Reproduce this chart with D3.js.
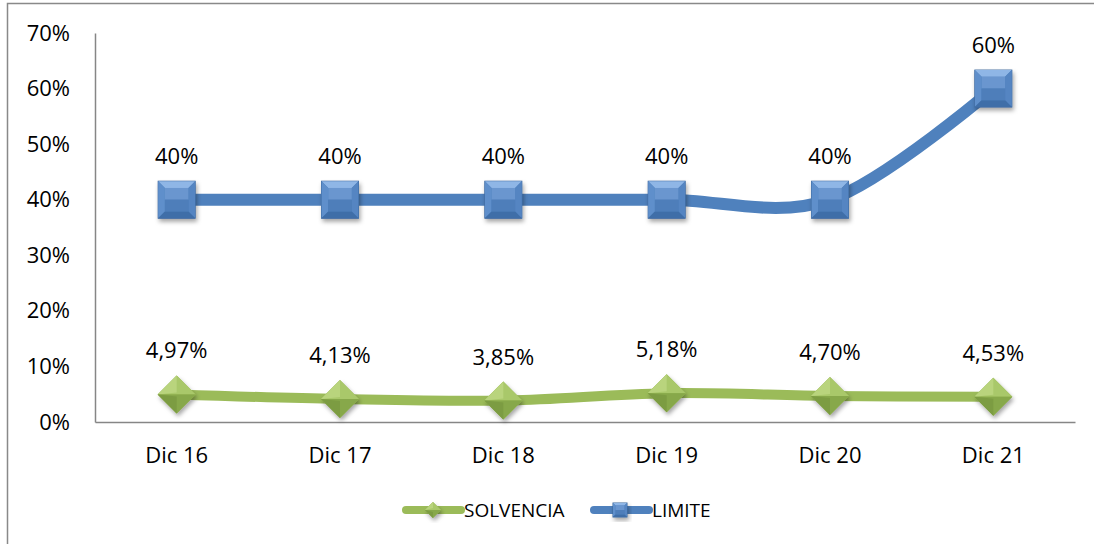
<!DOCTYPE html>
<html>
<head>
<meta charset="utf-8">
<script src="https://cdn.jsdelivr.net/npm/d3@7"></script>
<style>
	body { margin: 0; background: #fff; }
	text { font-family: "Open Sans", sans-serif; fill: #000; }
</style>
</head>
<body>
<svg id="chart" width="1094" height="544"></svg>
<script>
const categories = ['Dic 16', 'Dic 17', 'Dic 18', 'Dic 19', 'Dic 20', 'Dic 21']
const solvencia = [4.97, 4.13, 3.85, 5.18, 4.70, 4.53]
const limite = [40, 40, 40, 40, 40, 60]
const solvenciaLabels = ['4,97%', '4,13%', '3,85%', '5,18%', '4,70%', '4,53%']
const limiteLabels = ['40%', '40%', '40%', '40%', '40%', '60%']
const yTicks = [0, 10, 20, 30, 40, 50, 60, 70]

const svg = d3.select('#chart')

// outer frame
svg.append('rect')
	.attr('x', 7.5).attr('y', 3.5)
	.attr('width', 1100).attr('height', 560)
	.style('fill', 'none').style('stroke', '#898989').style('stroke-width', 1.5)

const x = d3.scaleBand().domain(categories).range([95, 1075])
const y = d3.scaleLinear().domain([0, 70]).range([422, 33])
const cx = d => x(d) + x.bandwidth() / 2

// axes
const yAxis = svg.append('g').attr('transform', 'translate(95,0)')
	.call(d3.axisLeft(y).tickValues(yTicks).tickSize(0).tickPadding(25).tickFormat(d => d + '%'))
const xAxis = svg.append('g').attr('transform', 'translate(0,422)')
	.call(d3.axisBottom(x).tickSize(0).tickPadding(25))
for (const g of [yAxis, xAxis]) {
	g.select('.domain').style('stroke', '#868686').style('stroke-width', 1.5)
	g.selectAll('text').style('font-family', '"Open Sans", sans-serif').style('font-size', '22px').style('fill', '#000')
}

const defs = svg.append('defs')
const f = defs.append('filter').attr('id', 'shadow').attr('x', '-30%').attr('y', '-30%').attr('width', '160%').attr('height', '160%')
f.append('feDropShadow').attr('dx', 1.5).attr('dy', 3).attr('stdDeviation', 2).attr('flood-color', '#000').attr('flood-opacity', 0.35)

const line = d3.line().curve(d3.curveCatmullRom.alpha(0))

function square(g, px, py, s) {
	const h = s / 2, i = h - s / 5.5
	const m = g.append('g').attr('transform', `translate(${px},${py})`)
	m.append('rect').attr('x', -h).attr('y', -h).attr('width', s).attr('height', s)
		.style('fill', '#4a7cb8').style('stroke', '#3b669c').style('stroke-width', 1).attr('filter', 'url(#shadow)')
	const face = (pts, c) => m.append('polygon').attr('points', pts.map(p => p.join(',')).join(' ')).style('fill', c)
	face([[-h, -h], [h, -h], [i, -i], [-i, -i]], '#8fb6e6')
	face([[-h, -h], [-i, -i], [-i, i], [-h, h]], '#5f8fcb')
	face([[h, -h], [h, h], [i, i], [i, -i]], '#5585c2')
	face([[-h, h], [h, h], [i, i], [-i, i]], '#3f6ea8')
	face([[-i, -i], [i, -i], [i, 0], [-i, 0]], '#6a96cf')
	face([[-i, 0], [i, 0], [i, i], [-i, i]], '#4e7eba')
}

function diamond(g, px, py, r) {
	const m = g.append('g').attr('transform', `translate(${px},${py})`)
	m.append('polygon').attr('points', `0,${-r} ${r},0 0,${r} ${-r},0`)
		.style('fill', '#8fb04e').attr('filter', 'url(#shadow)')
	m.append('polygon').attr('points', `0,${-r} ${r},0 ${-r},0`).style('fill', '#a9c86a')
	m.append('polygon').attr('points', `0,${-r} ${-r},0 0,-2`).style('fill', '#b9d47d')
	m.append('polygon').attr('points', `${-r},0 ${r},0 0,${r}`).style('fill', '#87a84a')
	m.append('polygon').attr('points', `${-r},0 0,2 0,${r}`).style('fill', '#7c9c42')
}

// LIMITE
const limPts = categories.map((c, i) => [cx(c), y(limite[i])])
svg.append('path').attr('d', line(limPts))
	.style('fill', 'none').style('stroke', '#4f81bd').style('stroke-width', 12).style('stroke-linecap', 'round')
// SOLVENCIA
const solPts = categories.map((c, i) => [cx(c), y(solvencia[i])])
svg.append('path').attr('d', line(solPts))
	.style('fill', 'none').style('stroke', '#9bbb59').style('stroke-width', 10).style('stroke-linecap', 'round')

const marks = svg.append('g')
limPts.forEach(p => square(marks, p[0], p[1], 37))
solPts.forEach(p => diamond(marks, p[0], p[1], 19))

svg.append('g').selectAll('text').data(limPts).join('text')
	.attr('x', d => d[0]).attr('y', d => d[1] - 36)
	.attr('text-anchor', 'middle').style('font-size', '22px')
	.text((d, i) => limiteLabels[i])
svg.append('g').selectAll('text').data(solPts).join('text')
	.attr('x', d => d[0]).attr('y', d => d[1] - 36)
	.attr('text-anchor', 'middle').style('font-size', '22px')
	.text((d, i) => solvenciaLabels[i])

// legend
const leg = svg.append('g')
leg.append('line').attr('x1', 406).attr('x2', 461).attr('y1', 510).attr('y2', 510)
	.style('stroke', '#9bbb59').style('stroke-width', 8).style('stroke-linecap', 'round')
diamond(leg, 433, 510, 8)
leg.append('text').attr('x', 464).attr('y', 517).style('font-size', '19px').text('SOLVENCIA')
leg.append('line').attr('x1', 594).attr('x2', 649).attr('y1', 510).attr('y2', 510)
	.style('stroke', '#4f81bd').style('stroke-width', 8).style('stroke-linecap', 'round')
square(leg, 620, 510, 14)
leg.append('text').attr('x', 652).attr('y', 517).style('font-size', '19px').text('LIMITE')
</script>
</body>
</html>
